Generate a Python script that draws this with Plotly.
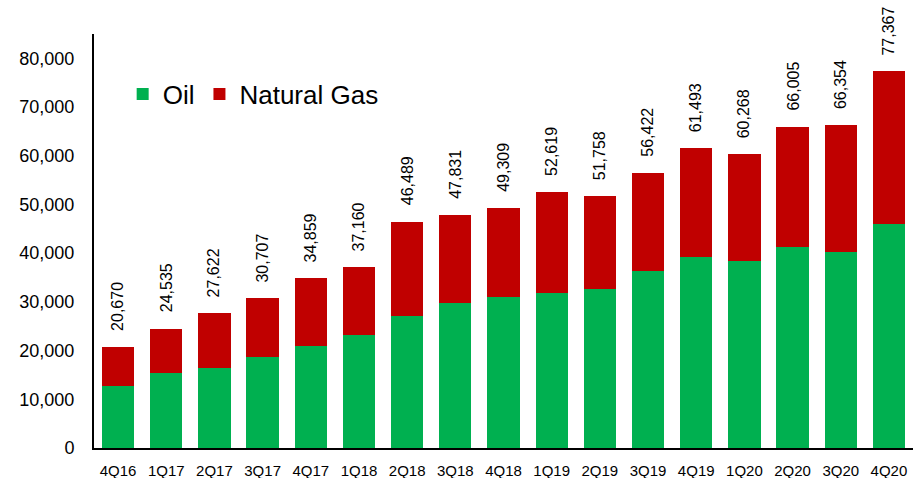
import plotly.graph_objects as go

quarters = ["4Q16", "1Q17", "2Q17", "3Q17", "4Q17", "1Q18", "2Q18", "3Q18", "4Q18",
            "1Q19", "2Q19", "3Q19", "4Q19", "1Q20", "2Q20", "3Q20", "4Q20"]
totals = [20670, 24535, 27622, 30707, 34859, 37160, 46489, 47831, 49309,
          52619, 51758, 56422, 61493, 60268, 66005, 66354, 77367]
oil = [12700, 15500, 16500, 18600, 20900, 23100, 27200, 29800, 31100,
       31800, 32600, 36300, 39200, 38300, 41300, 40200, 45900]
natural_gas = [7970, 9035, 11122, 12107, 13959, 14060, 19289, 18031, 18209,
               20819, 19158, 20122, 22293, 21968, 24705, 26154, 31467]

FONT = "Liberation Sans, Arial, sans-serif"

fig = go.Figure()
fig.add_trace(go.Bar(x=quarters, y=oil, name="Oil", marker_color="#00B050",
                     marker_line_width=0))
fig.add_trace(go.Bar(x=quarters, y=natural_gas, name="Natural Gas", marker_color="#C00000",
                     marker_line_width=0))

for q, t in zip(quarters, totals):
    fig.add_annotation(x=q, y=t, text=f"{t:,}", showarrow=False, textangle=-90,
                       xanchor="center", yanchor="bottom", yshift=14,
                       font=dict(family=FONT, size=16, color="#000000"))

fig.update_layout(
    width=922, height=478,
    margin=dict(l=94, r=9, t=34, b=30),
    barmode="stack", bargap=0.33,
    plot_bgcolor="white", paper_bgcolor="white",
    font=dict(family=FONT, color="#000000"),
    showlegend=True,
    legend=dict(orientation="h", x=0.035, y=0.855, xanchor="left", yanchor="middle",
                font=dict(family=FONT, size=26, color="#000000"),
                bgcolor="rgba(0,0,0,0)", traceorder="normal"),
    xaxis=dict(showline=True, linecolor="#000000", linewidth=2, showgrid=False,
               ticks="", tickfont=dict(family=FONT, size=15, color="#000000"),
               ticklabelstandoff=8, range=[-0.5, 16.5], automargin=False),
    yaxis=dict(showline=True, linecolor="#000000", linewidth=2, showgrid=False,
               range=[0, 85000], dtick=10000, tickformat=",", ticks="",
               tickfont=dict(family=FONT, size=18, color="#000000"),
               ticklabelstandoff=14, zeroline=False, automargin=False),
)

fig.write_html("out.html", config={"displayModeBar": False},
               post_script="document.body.style.margin='0';document.body.style.overflow='hidden';")
